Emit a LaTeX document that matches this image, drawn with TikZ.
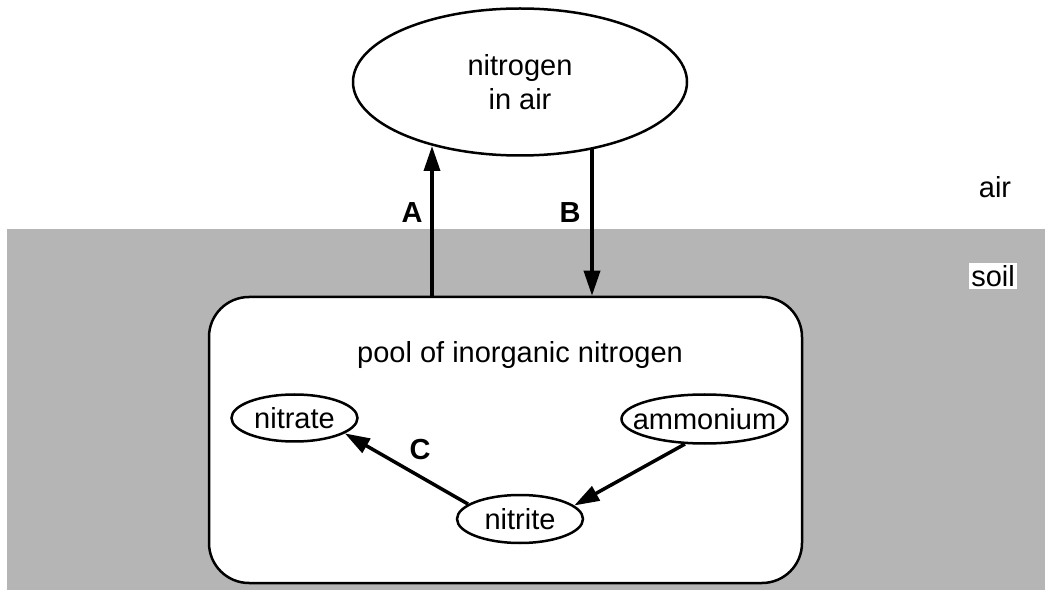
\documentclass[tikz,border=0pt]{standalone}
\usepackage{fontspec}
\setmainfont{Liberation Sans}
\usetikzlibrary{shapes.geometric,arrows.meta}
\definecolor{soilgray}{RGB}{181,181,181}
\newcommand{\tight}[1]{\makebox[0pt]{#1}}

\begin{document}
\begin{tikzpicture}[x=1pt,y=-1pt,
    every node/.style={font=\fontsize{29}{34}\selectfont},
    pot/.style={draw,ellipse,line width=2.5pt,fill=white,inner sep=0pt},
    flow/.style={line width=3.5pt,-{Triangle[length=25pt,width=16pt]}}]
    \useasboundingbox (0,0) rectangle (1045,612);
    \fill[soilgray] (7,229) rectangle (1045,590);
    \node (air) at (520,82) [pot,minimum width=334,minimum height=147,align=center] {nitrogen\\in air};
    \node (pool) at (505.5,440) [draw,fill=white,line width=2.5pt,rounded corners=40pt,
      minimum width=593,minimum height=286] {};
    \node (title) at (520,355) {pool of inorganic nitrogen};
    \node (nitrate) at (294.5,418) [pot,minimum width=126,minimum height=47] {\tight{nitrate}};
    \node (ammonium) at (704.5,419) [pot,minimum width=166,minimum height=49] {\tight{ammonium}};
    \node (nitrite) at (520,519) [pot,minimum width=126,minimum height=48] {\tight{nitrite}};
    \coordinate (aTip) at (432,146);
    \coordinate (bFoot) at (592,149);
    \draw[flow] (pool.north -| aTip) -- (aTip);
    \draw[flow] (bFoot) -- (pool.north -| bFoot);
    \draw[flow] (nitrite.164) -- (nitrate.343);
    \draw[flow] (ammonium.232) -- (nitrite.14);
    \draw
    (412,213) node (A) {\bfseries A}
    (570,213) node (B) {\bfseries B}
    (420,450) node (C) {\bfseries C}
    (995,187) node (airlabel) {air}
    (993,276) node (soillabel) [fill=white,inner sep=2pt] {soil};
  \end{tikzpicture}
\end{document}
